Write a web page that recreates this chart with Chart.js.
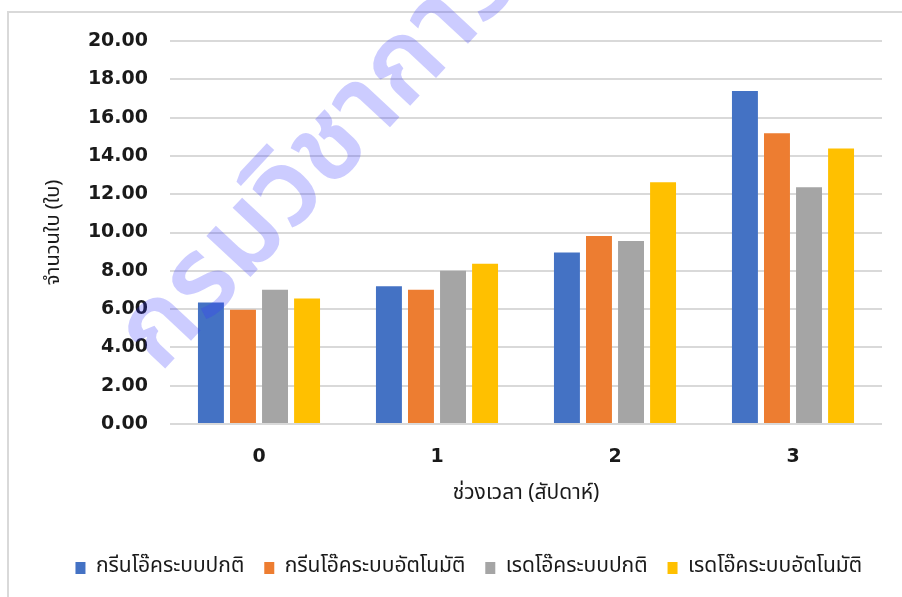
<!DOCTYPE html>
<html>
<head>
<meta charset="utf-8">
<script src="https://cdn.jsdelivr.net/npm/chart.js@4.4.1/dist/chart.umd.min.js"></script>
<style>
  html, body { margin: 0; padding: 0; background: #ffffff; }
  #wrap { width: 902px; height: 597px; position: relative; }
</style>
</head>
<body>
<div id="wrap"><canvas id="c"></canvas></div>
<script>
// Weeks of growth (x axis)
const weeks = ['0', '1', '2', '3'];

// Mean number of leaves per plant for each variety / growing system
const greenOakNormal = [6.35, 7.19, 8.96, 17.39];
const greenOakAuto   = [5.97, 7.01, 9.82, 15.18];
const redOakNormal   = [7.01, 8.00, 9.56, 12.36];
const redOakAuto     = [6.56, 8.37, 12.62, 14.38];

const seriesNames = [
  'กรีนโอ๊คระบบปกติ',
  'กรีนโอ๊คระบบอัตโนมัติ',
  'เรดโอ๊คระบบปกติ',
  'เรดโอ๊คระบบอัตโนมัติ'
];

const yTicks = [0, 2, 4, 6, 8, 10, 12, 14, 16, 18, 20];
const yTitle = 'จำนวนใบ (ใบ)';
const xTitle = 'ช่วงเวลา (สัปดาห์)';
const watermark = 'กรมวิชาการเกษตร';

const thaiFont = "'Noto Sans Thai', 'Noto Sans', 'DejaVu Sans', sans-serif";
const numFont = "'DejaVu Sans', 'Noto Sans', sans-serif";

// Light frame around the chart
const framePlugin = {
  id: 'frame',
  beforeDraw(chart) {
    const ctx = chart.ctx;
    ctx.save();
    ctx.strokeStyle = '#d9d9d9';
    ctx.lineWidth = 2;
    ctx.beginPath();
    ctx.moveTo(8, 610);
    ctx.lineTo(8, 12);
    ctx.lineTo(910, 12);
    ctx.stroke();
    ctx.restore();
  }
};

// Translucent diagonal stamp over the bars
const stampPlugin = {
  id: 'stamp',
  afterDatasetsDraw(chart) {
    const ctx = chart.ctx;
    ctx.save();
    ctx.translate(160, 374);
    ctx.rotate(-47 * Math.PI / 180);
    ctx.font = "600 110px " + thaiFont;
    ctx.fillStyle = 'rgba(51, 51, 255, 0.25)';
    ctx.textAlign = 'left';
    ctx.textBaseline = 'alphabetic';
    ctx.fillText(watermark, 0, 0);
    ctx.restore();
  }
};

const colors = ['#4472C4', '#ED7D31', '#A5A5A5', '#FFC000'];
const values = [greenOakNormal, greenOakAuto, redOakNormal, redOakAuto];

new Chart(document.getElementById('c'), {
  type: 'bar',
  data: {
    labels: weeks,
    datasets: values.map((v, i) => ({
      label: seriesNames[i],
      data: v,
      backgroundColor: colors[i],
      borderWidth: 0,
      categoryPercentage: 0.72,
      barPercentage: 0.81
    }))
  },
  options: {
    responsive: true,
    maintainAspectRatio: false,
    animation: false,
    devicePixelRatio: 1,
    layout: { padding: { top: 41, left: 0, right: 20, bottom: 8.5 } },
    plugins: {
      legend: {
        position: 'bottom',
        align: 'end',
        labels: {
          boxWidth: 10,
          boxHeight: 12,
          padding: 20,
          color: '#1a1a1a',
          font: { family: thaiFont, size: 21 }
        }
      },
      tooltip: { enabled: false }
    },
    scales: {
      x: {
        grid: { display: false, drawTicks: false },
        border: { display: false },
        ticks: {
          color: '#1a1a1a',
          padding: 22,
          font: { family: numFont, size: 19, weight: 'bold' }
        },
        title: {
          display: true,
          text: xTitle,
          color: '#1a1a1a',
          padding: { top: 0, bottom: 29.9 },
          font: { family: thaiFont, size: 21 }
        },
        afterFit(scale) { scale.height = 113.5; }
      },
      y: {
        min: 0,
        max: 20,
        afterBuildTicks(scale) { scale.ticks = yTicks.map(v => ({ value: v })); },
        grid: { color: '#d9d9d9', lineWidth: 2, drawTicks: false },
        border: { display: false },
        ticks: {
          color: '#1a1a1a',
          padding: 22,
          font: { family: numFont, size: 19, weight: 'bold' },
          callback: v => Number(v).toFixed(2)
        },
        title: {
          display: true,
          text: yTitle,
          color: '#1a1a1a',
          padding: { top: 43, bottom: 0 },
          font: { family: thaiFont, size: 20 }
        },
        afterFit(scale) { scale.width = 170; }
      }
    }
  },
  plugins: [framePlugin, stampPlugin]
});
</script>
</body>
</html>
